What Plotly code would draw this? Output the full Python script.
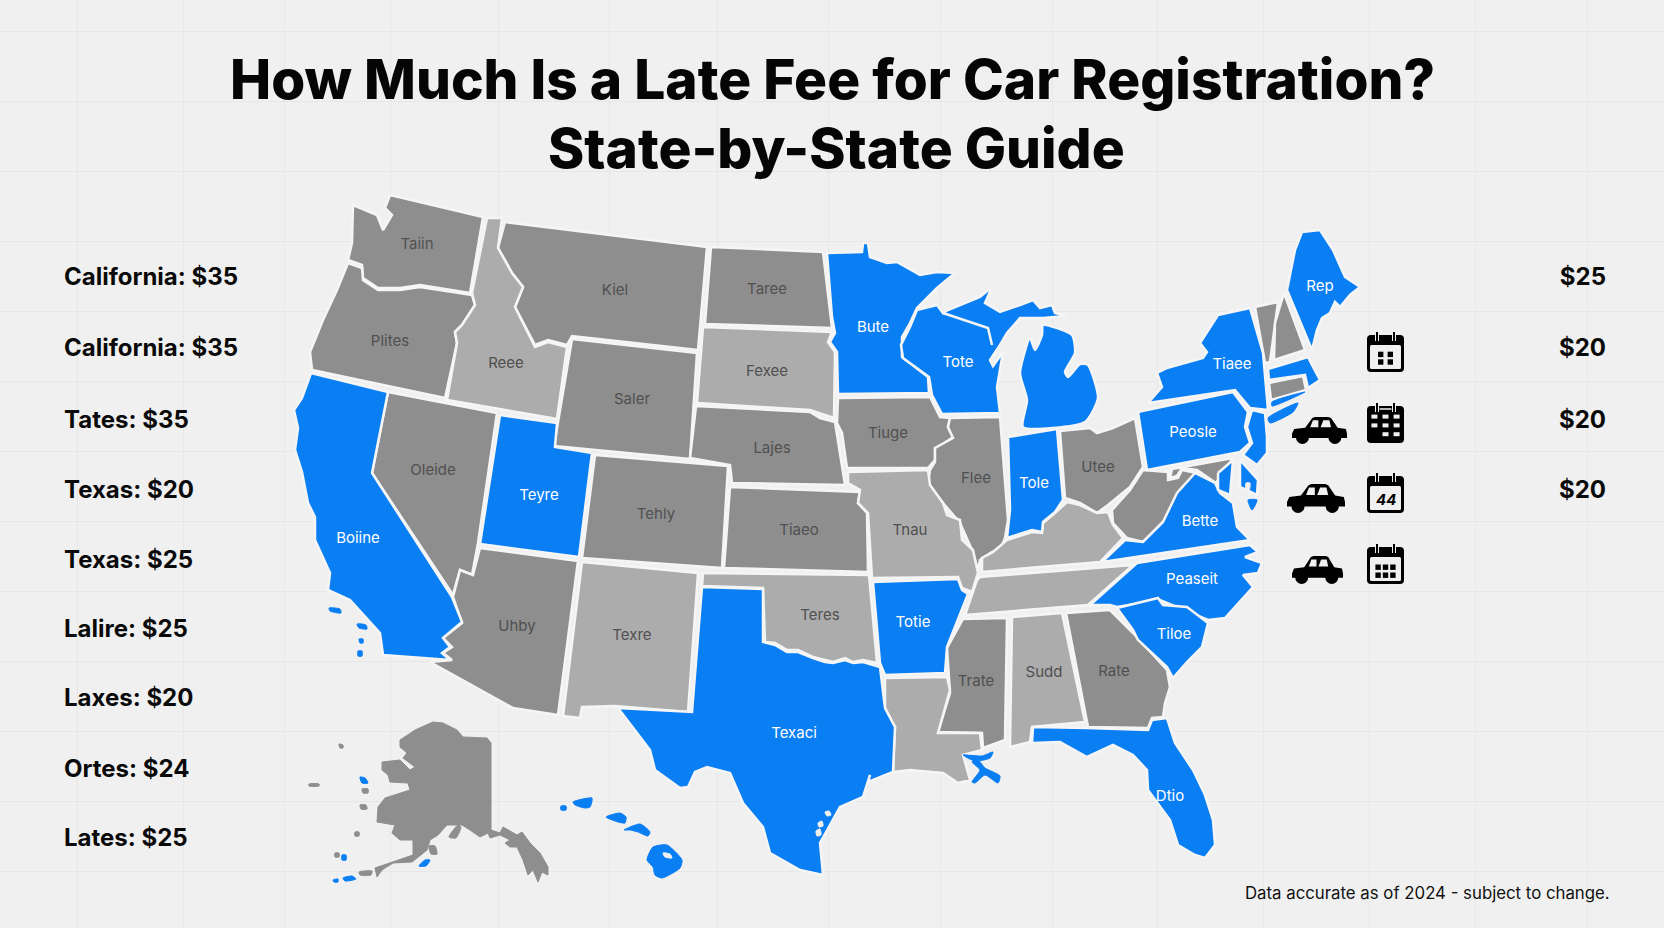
import plotly.graph_objects as go

left_names = ["California", "California", "Tates", "Texas", "Texas", "Lalire", "Laxes", "Ortes", "Lates"]
left_fees = [35, 35, 35, 20, 25, 25, 20, 24, 25]
left_rows = [279, 350, 422, 492, 562, 631, 700, 771, 840]
right_fees = [25, 20, 20, 20]
right_rows = [279, 350, 422, 492]

grid_x = [77, 183, 284, 390, 498, 609, 717, 828, 940, 1052, 1157, 1263, 1369, 1475, 1587]
grid_y = [31, 101, 171, 241, 311, 381, 451, 521, 591, 661, 731, 801, 871]

# state outlines
WA = [(390,195),(483,217),(470,293),(420,285),(400,288),(378,288),(363,278),(362,265),(348,260),(352,243),(353,205),(377,215),(383,230),(392,215),(385,208)]
OR = [(348,263),(362,268),(363,280),(378,290),(400,290),(420,287),(472,295),(475,305),(462,325),(455,332),(457,343),(445,398),(312,370),(310,352),(323,320),(337,290)]
ID = [(487,218),(502,218),(498,248),(512,273),(523,287),(515,307),(535,347),(548,342),(567,347),(557,419),(447,400),(457,343),(455,332),(462,325),(475,305),(472,293)]
MT = [(505,222),(707,247),(698,350),(572,336),(567,345),(548,340),(535,345),(515,307),(523,287),(512,273),(498,248)]
WY = [(572,339),(697,353),(690,459),(554,446)]
UT = [(500,415),(557,423),(555,447),(592,453),(579,557),(480,544)]
NV = [(388,392),(497,413),(478,543),(472,575),(460,570),(453,595),(372,473)]
CA = [(311,373),(388,392),(372,473),(452,597),(462,622),(443,638),(450,647),(442,653),(450,660),(383,655),(380,633),(350,600),(328,590),(330,573),(315,540),(315,517),(308,503),(302,472),(295,450),(298,428),(294,410),(302,398)]
AZ = [(480,548),(578,561),(558,715),(513,708),(430,662),(452,660),(443,653),(452,647),(443,638),(462,623),(453,597),(460,570),(473,575)]
NM = [(582,562),(698,573),(688,712),(615,706),(582,707),(580,718),(563,716)]
CO = [(595,455),(728,466),(722,568),(582,558)]
ND = [(711,247),(823,252),(832,328),(705,324)]
SD = [(703,327),(832,332),(828,342),(835,352),(834,418),(810,410),(697,403)]
NE = [(696,406),(810,412),(820,418),(835,422),(845,485),(732,483),(730,465),(690,458)]
KS = [(730,487),(860,492),(858,503),(867,513),(868,572),(724,568)]
OK = [(703,573),(869,575),(877,663),(863,660),(853,662),(845,658),(833,662),(825,660),(813,657),(798,650),(787,650),(775,643),(765,642),(763,588),(702,586)]
TX = [(702,587),(763,589),(763,642),(775,645),(787,652),(798,652),(813,658),(825,662),(833,663),(845,660),(853,663),(863,662),(880,667),(885,708),(895,727),(893,772),(868,782),(870,775),(863,797),(840,807),(820,843),(823,875),(800,870),(770,853),(763,827),(743,803),(730,773),(707,767),(695,772),(688,787),(680,788),(655,770),(650,750),(618,708),(692,712)]
AR = [(873,582),(958,579),(962,590),(968,594),(947,647),(945,673),(885,675),(880,663)]
LA = [(885,678),(947,677),(950,690),(938,733),(980,733),(982,750),(963,755),(970,780),(958,783),(943,773),(910,770),(893,772),(895,727),(885,708)]
LA_DELTA1 = [(963,755),(982,756),(993,752),(990,758),(975,761)]
LA_DELTA2 = [(972,762),(978,760),(985,768),(1000,776),(998,783),(985,775),(975,783),(972,782),(980,770)]
MO = [(848,472),(928,470),(930,485),(943,503),(947,515),(960,520),(962,540),(973,550),(978,573),(972,592),(962,588),(958,577),(872,578),(868,513),(858,503),(860,490),(848,483)]
IA = [(838,398),(930,397),(940,417),(950,418),(948,427),(953,437),(935,450),(935,460),(928,468),(847,468),(842,433),(837,423)]
MN = [(827,253),(862,252),(863,243),(868,243),(870,257),(887,263),(897,262),(920,275),(937,272),(955,273),(937,288),(917,308),(910,323),(902,337),(902,357),(928,377),(929,393),(838,394),(837,352),(830,342),(835,333),(832,317)]
WI = [(917,310),(937,305),(943,313),(948,310),(980,297),(992,287),(985,303),(1000,312),(1020,305),(1033,300),(1040,308),(1052,305),(1055,313),(1066,316),(1043,318),(1020,318),(1007,333),(1000,345),(990,360),(993,366),(1003,352),(997,387),(1000,413),(942,414),(932,395),(929,377),(903,358),(901,345),(910,327)]
WI_BORDER = [(943,313),(988,328),(992,345)]
MI = [(1023,427),(1085,422),(1098,398),(1088,365),(1080,364),(1068,377),(1065,372),(1075,353),(1072,335),(1043,325),(1042,335),(1035,350),(1030,338),(1020,373),(1027,400)]
IL = [(950,418),(1000,417),(1008,520),(1005,538),(1000,550),(992,552),(980,560),(978,570),(972,550),(960,523),(943,503),(928,483),(930,470),(935,462),(935,448),(953,438),(948,427)]
IN = [(1008,437),(1057,429),(1063,500),(1055,512),(1043,522),(1042,532),(1032,530),(1017,535),(1007,538),(1010,510)]
OH = [(1060,431),(1090,428),(1097,433),(1113,428),(1135,418),(1143,467),(1130,487),(1108,505),(1097,513),(1080,503),(1065,498)]
KY = [(1067,502),(1080,505),(1097,513),(1108,512),(1113,525),(1123,538),(1100,562),(982,572),(982,558),(993,552),(1007,540),(1017,537),(1032,532),(1042,533),(1043,523),(1055,513)]
TN = [(980,577),(1133,565),(1088,605),(965,615),(977,580)]
NC = [(1137,563),(1250,545),(1258,552),(1245,557),(1262,563),(1258,573),(1243,575),(1253,587),(1225,618),(1208,620),(1160,600),(1117,607),(1110,605),(1090,605)]
VA = [(1102,562),(1125,540),(1143,542),(1163,522),(1177,493),(1195,473),(1215,483),(1220,493),(1233,503),(1237,527),(1250,540)]
WV = [(1143,470),(1168,472),(1168,480),(1178,478),(1182,470),(1197,473),(1180,490),(1163,522),(1143,542),(1127,538),(1113,523),(1112,510),(1130,490)]
MD = [(1172,469),(1233,458),(1222,475),(1216,483),(1197,470),(1182,468),(1177,476),(1170,478)]
PA = [(1138,412),(1147,410),(1233,392),(1248,412),(1245,427),(1250,443),(1240,452),(1147,470)]
NY = [(1148,403),(1162,387),(1157,373),(1167,368),(1203,358),(1207,352),(1200,343),(1218,315),(1250,308),(1263,353),(1268,410),(1250,408),(1235,390)]
VT = [(1255,307),(1278,302),(1270,362),(1265,363)]
NH = [(1284,293),(1305,350),(1274,360),(1275,323)]
ME = [(1287,290),(1295,250),(1302,232),(1320,230),(1333,250),(1345,277),(1360,287),(1350,295),(1340,307),(1335,302),(1330,313),(1322,318),(1317,330),(1312,350)]
MA = [(1268,369),(1308,357),(1312,365),(1320,380),(1308,388),(1305,375),(1269,380)]
CT = [(1269,383),(1303,376),(1306,390),(1271,400)]
CT_SHORE = [(1272,402),(1305,392),(1272,406)]
LI = [(1268,418),(1298,403),(1293,412),(1270,423)]
NJ = [(1252,410),(1265,413),(1267,437),(1267,453),(1257,465),(1243,455),(1252,443),(1247,427)]
DE = [(1218,473),(1233,460),(1230,495),(1218,490)]
DELMARVA = [(1240,460),(1258,480),(1257,495),(1240,487)]
CAPE = [(1248,500),(1257,500),(1252,510)]
SC = [(1117,608),(1158,598),(1163,605),(1187,607),(1208,623),(1202,647),(1187,662),(1173,678),(1167,667),(1138,640),(1133,630)]
GA = [(1066,613),(1110,610),(1133,633),(1167,670),(1170,687),(1165,703),(1163,717),(1152,718),(1148,728),(1088,727)]
AL = [(1012,617),(1062,613),(1085,722),(1032,727),(1030,742),(1010,747)]
MS = [(963,619),(1007,618),(1005,740),(983,748),(982,733),(938,732),(950,693),(947,648)]
FL = [(1033,727),(1087,728),(1148,730),(1152,720),(1167,718),(1175,743),(1193,770),(1205,795),(1213,820),(1215,845),(1205,858),(1195,855),(1178,845),(1170,820),(1148,790),(1147,770),(1133,755),(1113,745),(1087,757),(1060,742),(1032,743)]
AK = [(400,740),(415,730),(433,722),(443,723),(457,730),(463,737),(487,738),(491,743),(491,830),(500,833),(503,827),(517,835),(522,832),(530,843),(540,853),(548,867),(548,875),(542,872),(538,882),(533,870),(528,875),(523,860),(517,847),(510,847),(505,843),(510,840),(500,835),(490,838),(488,833),(480,837),(470,830),(462,825),(447,825),(438,835),(430,840),(427,850),(412,862),(393,863),(382,870),(377,877),(375,868),(413,855),(413,840),(400,840),(392,833),(395,825),(377,822),(378,807),(385,798),(410,790),(408,783),(390,782),(388,775),(382,770),(382,762),(400,760),(410,770),(415,767),(403,758),(407,753),(400,747)]
HI_1 = [(561,806),(566,806),(566,810),(561,810)]
HI_2 = [(573,802),(592,798),(590,807),(585,808),(575,805)]
HI_3 = [(606,817),(620,813),(626,817),(625,823),(618,822)]
HI_4 = [(624,830),(640,824),(650,832),(648,836),(638,832),(630,830)]
HI_5 = [(647,860),(653,847),(667,845),(682,860),(680,868),(662,878),(655,875),(653,867)]
CA_I1 = [(329,608),(340,609),(341,613),(330,611)]
CA_I2 = [(357,624),(366,625),(367,629),(359,628)]
CA_I3 = [(359,639),(363,639),(363,643),(360,643)]
CA_I4 = [(358,651),(362,651),(362,656),(358,656)]
AK_I1 = [(339,744),(343,745),(343,748),(340,748)]
AK_I2 = [(309,784),(319,784),(319,786),(309,786)]
AK_I3 = [(362,789),(368,789),(368,793),(363,793)]
AK_I4 = [(360,805),(366,805),(367,809),(361,809)]
AK_I5 = [(355,832),(359,832),(359,836),(355,836)]
AK_I6 = [(335,853),(339,853),(339,857),(335,857)]
AK_I7 = [(359,872),(372,871),(371,875),(360,875)]
AK_I8 = [(429,846),(435,846),(437,854),(431,854)]
AK_I9 = [(449,837),(458,825),(461,827),(456,838)]
AK_B1 = [(360,777),(365,778),(368,783),(362,783)]
AK_B2 = [(342,855),(346,855),(346,860),(342,860)]
AK_B3 = [(419,866),(425,860),(430,860),(426,866)]
AK_B4 = [(343,878),(352,876),(356,879),(345,881)]
AK_B5 = [(333,880),(338,879),(338,882),(334,882)]
# water and lake patches on top of the land
TX_BAY1 = [(825,812),(829,811),(831,815),(827,816)]
TX_BAY2 = [(818,823),(822,821),(823,826),(819,827)]
TX_BAY3 = [(816,831),(820,829),(821,835),(817,836)]
DE_HOLE = [(1246,483),(1250,483),(1249,491),(1246,490)]
HI_HOLE = [(663,853),(670,854),(672,858),(665,857)]

dark_states = [WA, OR, MT, WY, NV, AZ, CO, ND, NE, KS, IA, IL, OH, WV, MD, MS, GA, VT, NH, CT]
light_states = [ID, SD, NM, OK, MO, KY, TN, AL, LA]
blue_states = [CA, UT, TX, AR, MN, WI, IN, PA, NY, NJ, VA, NC, SC, FL, ME, MA, DE, DELMARVA]
smooth_blue = [MI]
blue_bits = [CAPE, LI, CT_SHORE, LA_DELTA1, LA_DELTA2, HI_1, HI_2, HI_3, HI_4, HI_5, CA_I1, CA_I2, CA_I3, CA_I4, AK_B1, AK_B2, AK_B3, AK_B4, AK_B5]
dark_bits = [AK_I1, AK_I2, AK_I3, AK_I4, AK_I5, AK_I6, AK_I7, AK_I8, AK_I9]
water_bits = [TX_BAY1, TX_BAY2, TX_BAY3, DE_HOLE, HI_HOLE]

dark_labels = [("Taiin",417,245),("Kiel",615,291),("Plites",390,342),("Saler",632,400),("Oleide",433,471),("Uhby",517,627),("Tehly",656,515),("Taree",767,290),("Lajes",772,449),("Tiaeo",799,531),("Tiuge",888,434),("Flee",976,479),("Utee",1098,468),("Rate",1114,672),("Trate",976,682)]
light_labels = [("Reee",506,364),("Texre",632,636),("Fexee",767,372),("Teres",820,616),("Tnau",910,531),("Sudd",1044,673)]
blue_labels = [("Teyre",539,496),("Boiine",358,539),("Texaci",794,734),("Totie",913,623),("Bute",873,328),("Tote",958,363),("Tole",1034,484),("Peosle",1193,433),("Tiaee",1232,365),("Rep",1320,287),("Bette",1200,522),("Peaseit",1192,580),("Tiloe",1174,635),("Dtio",1170,797)]

# icon boxes x0, y0, x1, y1
calendars = [(1367,332,1404,372),(1367,403,1404,443),(1367,473,1404,513),(1367,544,1404,584)]
cars = [(1292,417,1347,444),(1287,484,1345,513),(1292,556,1343,584)]

BG = "#f0f0f0"
BORDER = "#f5f5f5"
DARK = "#8e8e8e"
LIGHT = "#acacac"
BLUE = "#0a7ef3"
FONT = "Inter"

fig = go.Figure()


def add_poly(points, color, border=True, smooth=False):
    xs = [p[0] for p in points] + [points[0][0]]
    ys = [p[1] for p in points] + [points[0][1]]
    line = dict(color=BORDER if border else color, width=2.5 if border else 1)
    if smooth:
        line["shape"] = "spline"
        line["smoothing"] = 0.6
    fig.add_trace(go.Scatter(x=xs, y=ys, mode="lines", fill="toself", fillcolor=color, line=line,
                             hoverinfo="skip", showlegend=False))


def add_labels(labels, color):
    fig.add_trace(go.Scatter(x=[l[1] for l in labels], y=[l[2] for l in labels], text=[l[0] for l in labels],
                             mode="text", textposition="middle center",
                             textfont=dict(family=FONT, size=15, color=color),
                             hoverinfo="skip", showlegend=False))


def rounded(x0, y0, x1, y1, r):
    return (f"M{x0 + r},{y0} L{x1 - r},{y0} Q{x1},{y0} {x1},{y0 + r} L{x1},{y1 - r} Q{x1},{y1} {x1 - r},{y1} "
            f"L{x0 + r},{y1} Q{x0},{y1} {x0},{y1 - r} L{x0},{y0 + r} Q{x0},{y0} {x0 + r},{y0} Z")


for poly in dark_states:
    add_poly(poly, DARK)
for poly in light_states:
    add_poly(poly, LIGHT)
for poly in blue_states:
    add_poly(poly, BLUE)
for poly in smooth_blue:
    add_poly(poly, BLUE, smooth=True)
add_poly(AK, DARK, border=False)
for poly in blue_bits:
    add_poly(poly, BLUE, border=False, smooth=True)
for poly in dark_bits:
    add_poly(poly, DARK, border=False, smooth=True)
for poly in water_bits:
    add_poly(poly, BG, border=False, smooth=True)

# the white river line between Wisconsin and upper Michigan
fig.add_trace(go.Scatter(x=[p[0] for p in WI_BORDER], y=[p[1] for p in WI_BORDER], mode="lines",
                         line=dict(color=BORDER, width=2.5), hoverinfo="skip", showlegend=False))

add_labels(dark_labels, "#505050")
add_labels(light_labels, "#505050")
add_labels(blue_labels, "#ffffff")

fig.add_trace(go.Scatter(x=[64] * len(left_rows), y=left_rows,
                         text=[f"{n}: ${v}" for n, v in zip(left_names, left_fees)],
                         mode="text", textposition="middle right",
                         textfont=dict(family=FONT, size=24, weight=700, color="#0a0a0a"),
                         hoverinfo="skip", showlegend=False))
fig.add_trace(go.Scatter(x=[1606] * len(right_rows), y=right_rows,
                         text=[f"${v}" for v in right_fees],
                         mode="text", textposition="middle left",
                         textfont=dict(family=FONT, size=24, weight=700, color="#0a0a0a"),
                         hoverinfo="skip", showlegend=False))

shapes = []
annotations = []
# each calendar differs: 2x2 dots, dark body, "44" text, 3x2 dots
dot_layouts = [
    [(0.37, 0.56), (0.63, 0.56), (0.37, 0.75), (0.63, 0.75)],
    [],
    [],
    [(0.3, 0.58), (0.5, 0.58), (0.7, 0.58), (0.3, 0.78), (0.5, 0.78), (0.7, 0.78)],
]
for i, (x0, y0, x1, y1) in enumerate(calendars):
    w = x1 - x0
    h = y1 - y0
    shapes.append(dict(type="path", path=rounded(x0, y0 + 3, x1, y1, 4), fillcolor="black", line=dict(width=0)))
    if i != 1:
        shapes.append(dict(type="path", path=rounded(x0 + 3, y0 + 13, x1 - 3, y1 - 3, 1.5), fillcolor=BG, line=dict(width=0)))
    for px in (0.27, 0.73):
        shapes.append(dict(type="line", x0=x0 + w * px, x1=x0 + w * px, y0=y0, y1=y0 + 9, line=dict(color=BG, width=4)))
        shapes.append(dict(type="line", x0=x0 + w * px, x1=x0 + w * px, y0=y0, y1=y0 + 9, line=dict(color="black", width=2)))
    for col, row in dot_layouts[i]:
        cx = x0 + w * col
        cy = y0 + h * row
        shapes.append(dict(type="rect", x0=cx - 2.7, x1=cx + 2.7, y0=cy - 2.7, y1=cy + 2.7, fillcolor="black", line=dict(width=0)))
    if i == 1:
        # dark calendar: header bar and white cells
        shapes.append(dict(type="line", x0=x0 + w * 0.34, x1=x0 + w * 0.66, y0=y0 + 6, y1=y0 + 6, line=dict(color=BG, width=1.5)))
        for row, cols in ((0.34, (0.2, 0.5, 0.8)), (0.56, (0.2, 0.5, 0.8)), (0.78, (0.5, 0.8))):
            for col in cols:
                cx = x0 + w * col
                cy = y0 + h * row
                shapes.append(dict(type="rect", x0=cx - 3, x1=cx + 3, y0=cy - 2, y1=cy + 2, fillcolor=BG, line=dict(width=0)))
    if i == 2:
        annotations.append(dict(x=x0 + w / 2, y=y0 + h * 0.65, xref="x", yref="y", text="<b><i>44</i></b>", showarrow=False,
                                font=dict(family=FONT, size=15, color="black"), xanchor="center", yanchor="middle"))

for x0, y0, x1, y1 in cars:
    w = x1 - x0
    h = y1 - y0
    sx = lambda v: x0 + w * v
    sy = lambda v: y0 + h * v
    body = [(0, .62), (.04, .45), (.24, .40), (.37, .04), (.42, 0), (.66, 0), (.71, .04), (.83, .40), (.98, .45), (1, .62), (1, .78), (0, .78)]
    path = "M" + " L".join(f"{sx(a):.1f},{sy(b):.1f}" for a, b in body) + " Z"
    shapes.append(dict(type="path", path=path, fillcolor="black", line=dict(width=0)))
    for a, b in ((.33, .48), (.52, .68)):
        win = [(a, .38), (a + .05, .12), (b, .12), (b + .03 if b > .6 else b, .38)]
        path = "M" + " L".join(f"{sx(p):.1f},{sy(q):.1f}" for p, q in win) + " Z"
        shapes.append(dict(type="path", path=path, fillcolor=BG, line=dict(width=0)))
    for c in (.19, .78):
        shapes.append(dict(type="circle", x0=sx(c) - 6.5, x1=sx(c) + 6.5, y0=y1 - 13, y1=y1, fillcolor="black", line=dict(width=0)))

annotations += [
    dict(x=832, y=79, xref="x", yref="y", text="How Much Is a Late Fee for Car Registration?", showarrow=False,
         font=dict(family=FONT, size=55, weight=800, color="#050505"), xanchor="center", yanchor="middle"),
    dict(x=836, y=148, xref="x", yref="y", text="State-by-State Guide", showarrow=False,
         font=dict(family=FONT, size=55, weight=800, color="#050505"), xanchor="center", yanchor="middle"),
    dict(x=1612, y=893, xref="x", yref="y", text="Data accurate as of 2024 - subject to change.", showarrow=False,
         font=dict(family=FONT, size=16.8, color="#111111"), xanchor="right", yanchor="middle"),
]

fig.update_layout(
    width=1664, height=928, autosize=False,
    margin=dict(l=0, r=0, t=0, b=0),
    paper_bgcolor=BG, plot_bgcolor=BG,
    shapes=shapes,
    annotations=annotations,
    xaxis=dict(range=[0, 1664], tickvals=grid_x, showticklabels=False, ticks="", showgrid=True,
               gridcolor="#e7e7e7", gridwidth=1, zeroline=False, showline=False, fixedrange=True),
    yaxis=dict(range=[928, 0], tickvals=grid_y, showticklabels=False, ticks="", showgrid=True,
               gridcolor="#e7e7e7", gridwidth=1, zeroline=False, showline=False, fixedrange=True),
)

# page margin off so the figure fills the window
fig.write_html("out.html", config={"displayModeBar": False}, post_script="document.body.style.margin='0';")
